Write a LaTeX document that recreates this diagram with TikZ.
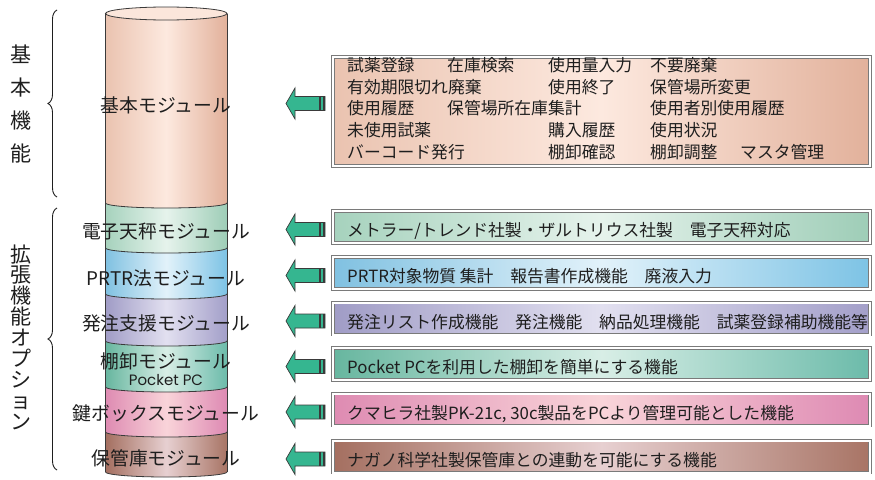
\documentclass[tikz,border=0pt]{standalone}
\usepackage{fontspec}
\newfontfamily\jpfont{Noto Sans CJK JP}
\newfontfamily\rndfont{Poppins}
\usetikzlibrary{decorations.pathreplacing}
\definecolor{txt}{HTML}{1E1E1E}
\definecolor{edge}{HTML}{3A3A3A}
\definecolor{boxline}{HTML}{7A7A7A}
\definecolor{grn}{HTML}{35B690}
\definecolor{topc}{HTML}{FBE6DB}
\definecolor{bL}{HTML}{EAC3B0}\definecolor{bM}{HTML}{FDE9DF}\definecolor{bR}{HTML}{E2B19B}
\definecolor{eL}{HTML}{A6D2BD}\definecolor{eM}{HTML}{E6F3EC}\definecolor{eR}{HTML}{9ECDB7}
\definecolor{pL}{HTML}{80C1E1}\definecolor{pM}{HTML}{E2F2FA}\definecolor{pR}{HTML}{7DC3E5}
\definecolor{hL}{HTML}{A09CC6}\definecolor{hM}{HTML}{E2E0F0}\definecolor{hR}{HTML}{A39FC9}
\definecolor{tL}{HTML}{67B69F}\definecolor{tM}{HTML}{D8EEE6}\definecolor{tR}{HTML}{6CBBAA}
\definecolor{kL}{HTML}{DE8BB2}\definecolor{kM}{HTML}{F9D4D9}\definecolor{kR}{HTML}{DE8AB3}
\definecolor{sL}{HTML}{A46F60}\definecolor{sM}{HTML}{E7D0D1}\definecolor{sR}{HTML}{A87465}
\newcommand\cylseg[5]{%
  \path[left color=#3, right color=#5, middle color=#4]
    (105.5,-#1) arc[start angle=180,end angle=360,x radius=60.75,y radius=5]
    -- (227,-#2) arc[start angle=0,end angle=-180,x radius=60.75,y radius=5] -- cycle;}
\tikzset{
  cylline/.style={draw=edge, line width=0.8pt},
  infobox/.style={rectangle, draw=boxline, double=white, double distance=2pt,
    line width=0.9pt, inner sep=0pt, minimum width=537pt},
  boxtext/.style={anchor=west, inner sep=0pt, text=txt,
    font=\jpfont\fontsize{16.8}{18}\selectfont, text height=14.8pt, text depth=2pt},
  cyltext/.style={inner sep=0pt, text=txt,
    font=\jpfont\fontsize{18.8}{20}\selectfont, text height=16.5pt, text depth=2.3pt},
  vlabel/.style={inner sep=0pt, text=txt, align=center},
  bracestyle/.style={decorate, decoration={brace, amplitude=9pt}, line width=0.9pt, draw=txt},
  garrow/.pic={
    \filldraw[fill=grn, draw=edge, line width=0.7pt]
      (286,0) -- (295,15.5) -- (295,7) -- (325,7) -- (325,-7) -- (295,-7) -- (295,-15.5) -- cycle;
    \draw[edge, line width=1.2pt] (320,7) -- (320,-7);
    \draw[edge, line width=1.6pt] (323.8,7) -- (323.8,-7);
  }
}
\begin{document}
\begin{tikzpicture}[x=1pt,y=1pt]
\useasboundingbox (0,0) rectangle (875,-479);

% ---------- cylinder ----------
\path[left color=bL, right color=bR, middle color=bM]
  (105.5,-13.5) arc[start angle=180,end angle=0,x radius=60.75,y radius=6.5]
  -- (227,-203) arc[start angle=0,end angle=-180,x radius=60.75,y radius=5] -- cycle;
\cylseg{203}{248}{eL}{eM}{eR}
\cylseg{248}{294}{pL}{pM}{pR}
\cylseg{294}{341}{hL}{hM}{hR}
\cylseg{341}{387}{tL}{tM}{tR}
\cylseg{387}{432}{kL}{kM}{kR}
\cylseg{432}{472}{sL}{sM}{sR}
\draw[cylline] (105.5,-13.5) -- (105.5,-472);
\draw[cylline] (227,-13.5) -- (227,-472);
\foreach \b in {203,248,294,341,387,432,472}
  \draw[cylline] (105.5,-\b) arc[start angle=180,end angle=360,x radius=60.75,y radius=5];
\draw[cylline, fill=topc] (166.25,-13.5) ellipse[x radius=60.75,y radius=6.5];

\node[cyltext] (m0) at (166,-105) {基本モジュール};
\node[cyltext] (m1) at (166,-231.7) {電子天秤モジュール};
\node[cyltext] (m2) at (166,-278.3) {PRTR法モジュール};
\node[cyltext] (m3) at (166,-323.3) {発注支援モジュール};
\node[cyltext] (m4) at (166,-361.5) {棚卸モジュール};
\node[inner sep=0pt, text=txt, font=\rndfont\fontsize{15}{16}\selectfont] (m4b) at (166,-380) {Pocket PC};
\node[cyltext] (m5) at (166,-413.3) {鍵ボックスモジュール};
\node[cyltext] (m6) at (166,-458.3) {保管庫モジュール};

% ---------- braces and side labels ----------
\coordinate (br1s) at (57,-197);
\coordinate (br1e) at (57,-10);
\coordinate (br2s) at (57,-470);
\coordinate (br2e) at (57,-208);
\draw[bracestyle] (br1s) -- (br1e);
\draw[bracestyle] (br2s) -- (br2e);
\node[vlabel, font=\jpfont\fontsize{21}{33}\selectfont] (lab1) at (21,-104.5) {基\\本\\機\\能};
\node[vlabel, font=\jpfont\fontsize{21}{20.9}\selectfont] (lab2) at (21,-337) {拡\\張\\機\\能\\オ\\プ\\シ\\ョ\\ン};

% ---------- arrows ----------
\pic at (0,-103.5) {garrow};
\pic at (0,-229.5) {garrow};
\pic at (0,-275.5) {garrow};
\pic at (0,-321) {garrow};
\pic at (0,-366.5) {garrow};
\pic at (0,-412) {garrow};
\pic at (0,-459) {garrow};

% ---------- basic box ----------
\node[infobox, left color=bL, right color=bR, middle color=bM, minimum height=109pt] (box0) at (601.5,-111.5) {};
\node[boxtext] (t11) at (347,-65) {試薬登録};
\node[boxtext] (t12) at (447,-65) {在庫検索};
\node[boxtext] (t13) at (548,-65) {使用量入力};
\node[boxtext] (t14) at (650,-65) {不要廃棄};
\node[boxtext] (t21) at (347,-86.7) {有効期限切れ廃棄};
\node[boxtext] (t23) at (548,-86.7) {使用終了};
\node[boxtext] (t24) at (650,-86.7) {保管場所変更};
\node[boxtext] (t31) at (347,-108.4) {使用履歴};
\node[boxtext] (t32) at (447,-108.4) {保管場所在庫集計};
\node[boxtext] (t34) at (650,-108.4) {使用者別使用履歴};
\node[boxtext] (t41) at (347,-130.1) {未使用試薬};
\node[boxtext] (t43) at (548,-130.1) {購入履歴};
\node[boxtext] (t44) at (650,-130.1) {使用状況};
\node[boxtext] (t51) at (347,-151.8) {バーコード発行};
\node[boxtext] (t53) at (548,-151.8) {棚卸確認};
\node[boxtext] (t54) at (650,-151.8) {棚卸調整};
\node[boxtext] (t55) at (740,-151.8) {マスタ管理};

% ---------- option boxes ----------
\node[infobox, left color=eL, right color=eR, middle color=eM, minimum height=32pt] (box1) at (601.5,-227) {};
\node[infobox, left color=pL, right color=pR, middle color=pM, minimum height=32pt] (box2) at (601.5,-273) {};
\node[infobox, left color=hL, right color=hR, middle color=hM, minimum height=32pt] (box3) at (601.5,-318.5) {};
\node[infobox, left color=tL, right color=tR, middle color=tM, minimum height=32pt] (box4) at (601.5,-364) {};
\node[infobox, left color=kL, right color=kR, middle color=kM, minimum height=32pt] (box5) at (601.5,-409.5) {};
\node[infobox, left color=sL, right color=sR, middle color=sM, minimum height=32pt] (box6) at (601.5,-456.5) {};

\node[boxtext] (o1) at (347,-230.5) {メトラー/トレンド社製・ザルトリウス社製　電子天秤対応};
\node[boxtext] (o2) at (347,-276.5) {PRTR対象物質 集計　報告書作成機能　廃液入力};
\node[boxtext] (o3) at (347,-322) {発注リスト作成機能　発注機能　納品処理機能　試薬登録補助機能等};
\node[boxtext] (o4) at (347,-367.5) {Pocket PCを利用した棚卸を簡単にする機能};
\node[boxtext] (o5) at (347,-413) {クマヒラ社製PK-21c, 30c製品をPCより管理可能とした機能};
\node[boxtext] (o6) at (347,-460) {ナガノ科学社製保管庫との連動を可能にする機能};
\end{tikzpicture}
\end{document}
